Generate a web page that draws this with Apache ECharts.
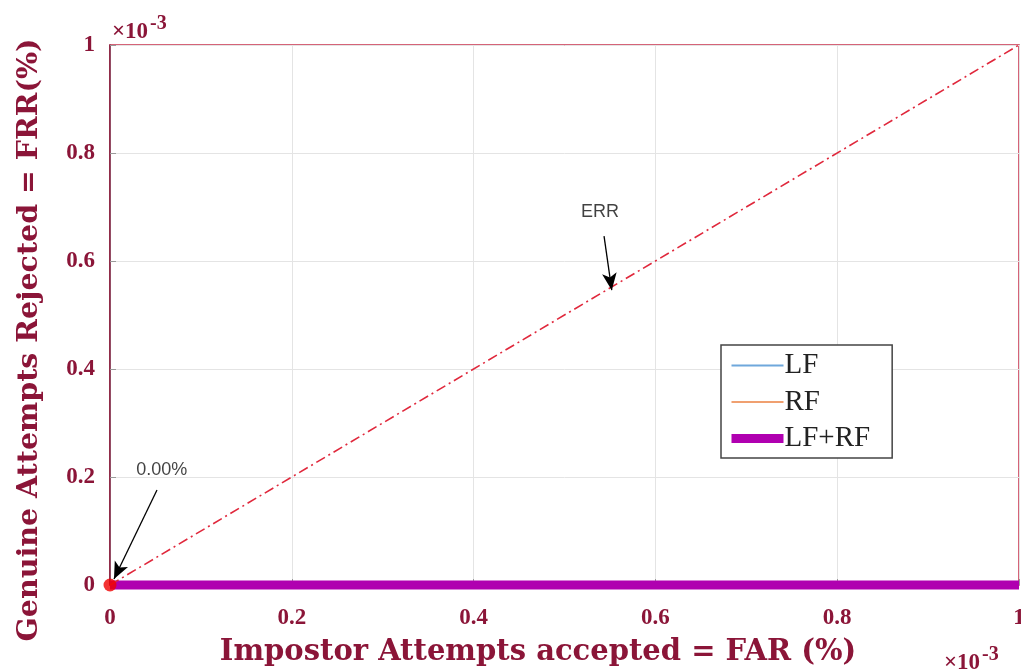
<!DOCTYPE html>
<html><head><meta charset="utf-8">
<script src="https://cdn.jsdelivr.net/npm/echarts@6/dist/echarts.min.js"></script>
<style>html,body{margin:0;padding:0;background:#fff}#c{width:1021px;height:672px}</style>
</head><body><div id="c"></div>
<script>
// values in units of 1e-3
const xTicks = [0, 0.2, 0.4, 0.6, 0.8, 1];
const lfData = [[0, 0], [1, 0]];
const rfData = [[0, 0], [1, 0]];
const lfrfData = [[0, 0], [1, 0]];
const eerLine = [[0, 0], [1, 1]];
const eerPoint = [[0, 0]];
const errArrow = [[0.5435, 0.646], [0.552, 0.546]];
const errLabel = [[0.539, 0.691, 'ERR']];
const zeroArrow = [[0.0517, 0.176], [0.0044, 0.011]];
const zeroLabel = [[0.057, 0.213, '0.00%']];

const dark = '#8b1538';
const serif = '"Liberation Serif","DejaVu Serif",serif';
const wideSerif = '"DejaVu Serif","Liberation Serif",serif';
const chart = echarts.init(document.getElementById('c'));

function arrowSeries(pts) {
  return {
    type: 'line', data: [], silent: true,
    markLine: {
      silent: true, animation: false,
      symbol: ['none', 'arrow'], symbolSize: [11, 17],
      lineStyle: { color: '#000', width: 1.3, type: 'solid' },
      itemStyle: { color: '#000' },
      label: { show: false },
      data: [[{ coord: pts[0] }, { coord: pts[1] }]]
    }
  };
}
function labelSeries(pts) {
  return {
    type: 'scatter', symbolSize: 0, silent: true,
    data: pts.map(p => ({ value: [p[0], p[1]], label: { formatter: p[2] } })),
    label: { show: true, position: 'inside', color: '#111', fontSize: 18, fontFamily: 'Arial, "Liberation Sans", sans-serif' }
  };
}

chart.setOption({
  animation: false,
  backgroundColor: '#fff',
  grid: { left: 110, right: 2, top: 45, bottom: 87, show: true, borderColor: '#c8304c', borderWidth: 1.5,
    containLabel: false, outerBoundsMode: 'none' },
  xAxis: {
    type: 'value', min: 0, max: 1, interval: 0.2,
    axisLine: { show: false },
    axisTick: { show: true, inside: true, length: 6, lineStyle: { color: '#999' } },
    splitLine: { show: true, lineStyle: { color: '#e4e4e4' } },
    axisLabel: { color: dark, fontSize: 23, fontWeight: 'bold', fontFamily: serif, margin: 22,
      formatter: v => xTicks.includes(+v.toFixed(1)) ? String(+v.toFixed(1)) : '' }
  },
  yAxis: {
    type: 'value', min: 0, max: 1, interval: 0.2,
    axisLine: { show: true, lineStyle: { color: '#7a1a3a', width: 1.5 } },
    axisTick: { show: true, inside: true, length: 6, lineStyle: { color: '#999' } },
    splitLine: { show: true, lineStyle: { color: '#e4e4e4' } },
    axisLabel: { color: dark, fontSize: 23, fontWeight: 'bold', fontFamily: serif, margin: 15,
      formatter: v => String(+v.toFixed(1)) }
  },
  legend: {
    orient: 'vertical', left: 721, top: 345,
    data: [
      { name: 'LF' },
      { name: 'RF' },
      { name: 'LF+RF', lineStyle: { width: 9 } }
    ],
    itemStyle: { opacity: 0 },
    backgroundColor: '#fff', borderColor: '#444', borderWidth: 1.5,
    padding: [6, 22, 5, 6], itemWidth: 52, itemHeight: 24, itemGap: 7.5,
    textStyle: { fontFamily: serif, fontSize: 29, lineHeight: 26, color: '#222', padding: [0, 0, 0, -4] }
  },
  series: [
    { name: 'LF', type: 'line', data: lfData, symbol: 'none', clip: false,
      lineStyle: { color: '#6fa8dc', width: 2 }, itemStyle: { color: '#6fa8dc' } },
    { name: 'RF', type: 'line', data: rfData, symbol: 'none', clip: false,
      lineStyle: { color: '#f0a070', width: 2 }, itemStyle: { color: '#f0a070' } },
    { name: 'LF+RF', type: 'line', data: lfrfData, symbol: 'none', clip: false, z: 3,
      lineStyle: { color: '#b000b0', width: 9 }, itemStyle: { color: '#b000b0' } },
    { name: 'EER', type: 'line', data: eerLine, symbol: 'none', z: 4,
      lineStyle: { color: '#e0283c', width: 1.6, type: [10, 4, 2, 4] } },
    { name: 'pt', type: 'scatter', data: eerPoint, symbol: 'circle', symbolSize: 13, z: 5,
      itemStyle: { color: '#f00000' } },
    arrowSeries(errArrow),
    arrowSeries(zeroArrow),
    labelSeries(errLabel),
    labelSeries(zeroLabel)
  ],
  graphic: [
    { type: 'text', x: 538, y: 652, style: { text: 'Impostor Attempts accepted = FAR (%)', align: 'center', verticalAlign: 'middle',
      fontFamily: wideSerif, fontSize: 29, fontWeight: 'bold', fill: dark } },
    { type: 'text', x: 30, y: 340, rotation: Math.PI / 2, style: { text: 'Genuine Attempts Rejected = FRR(%)', align: 'center', verticalAlign: 'middle',
      fontFamily: wideSerif, fontSize: 28.5, fontWeight: 'bold', fill: dark } },
    { type: 'text', left: 112, top: 14, style: { text: '{a|×10}{b|-3}', rich: {
      a: { fontFamily: serif, fontSize: 23, fontWeight: 'bold', fill: dark, padding: [8, 0, 0, 0] },
      b: { fontFamily: serif, fontSize: 20, fontWeight: 'bold', fill: dark, padding: [0, 0, 8, 2] } } } },
    { type: 'text', left: 944, top: 645, style: { text: '{a|×10}{b|-3}', rich: {
      a: { fontFamily: serif, fontSize: 23, fontWeight: 'bold', fill: dark, padding: [8, 0, 0, 0] },
      b: { fontFamily: serif, fontSize: 20, fontWeight: 'bold', fill: dark, padding: [0, 0, 8, 2] } } } }
  ]
});
</script></body></html>
